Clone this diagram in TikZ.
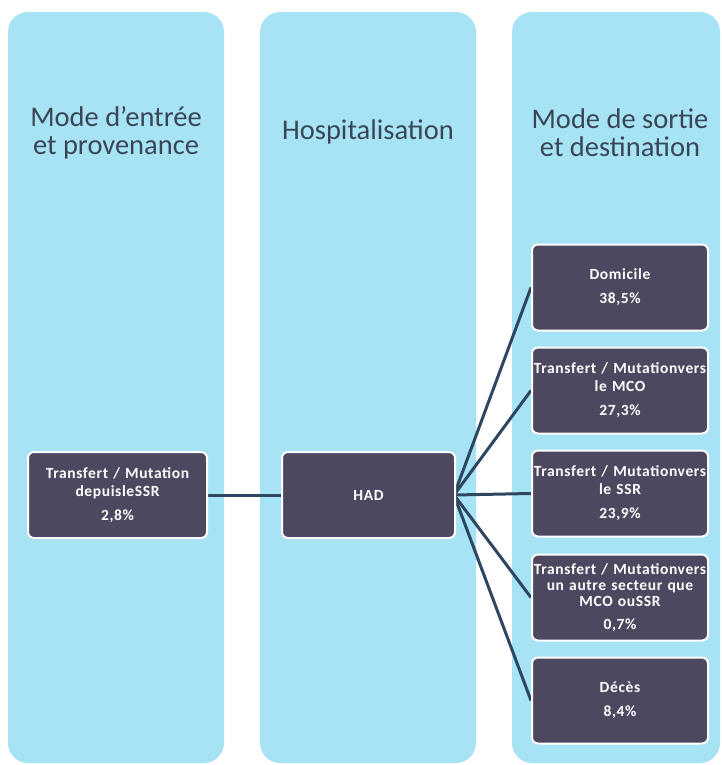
\documentclass[tikz,border=0pt]{standalone}
\usepackage{fontspec}
\setmainfont{Carlito}
\newfontfamily\boxfont[LetterSpace=4]{Carlito}
\definecolor{colbg}{HTML}{A6E3F5}
\definecolor{boxbg}{HTML}{4D4760}
\definecolor{headtxt}{HTML}{3A4656}
\definecolor{conncol}{HTML}{2E4660}
\pgfdeclarelayer{cols}
\pgfdeclarelayer{lines}
\pgfsetlayers{cols,lines,main}
\tikzset{
  column/.style={fill=colbg, rounded corners=20pt},
  heading/.style={text=headtxt, font=\fontsize{28.5}{28}\selectfont, align=center},
  flowbox/.style={fill=boxbg, draw=white, line width=2pt, rounded corners=6pt,
    text=white, font=\boxfont\bfseries\fontsize{15.5}{18}\selectfont, align=center,
    inner sep=0pt, minimum height=86pt},
  conn/.style={draw=conncol, line width=3pt}
}
\begin{document}
\begin{tikzpicture}[x=1pt,y=-1pt]
\useasboundingbox (0,0) rectangle (721,765);
\begin{pgfonlayer}{cols}
\fill[white] (0,0) rectangle (721,765);
\fill[column] (8,12) rectangle (224,763);
\fill[column] (260,12) rectangle (476,763);
\fill[column] (512,12) rectangle (720,763);
\end{pgfonlayer}
% headings
\node[heading] (h1) at (116,133) {Mode d'entrée\\et provenance};
\node[heading] (h2) at (368,132) {Hospitalisation};
\node[heading] (h3) at (620,133) {Mode de sortie\\et destination};
% boxes
\node[flowbox, minimum width=179pt, text width=175pt] (src) at (117.5,495) {Transfert / Mutation\\depuisleSSR\\[6pt]2,8\%};
\node[flowbox, minimum width=173pt, text width=170pt] (had) at (368.5,495) {HAD};
\node[flowbox, minimum width=176pt, text width=176pt] (r1) at (620,287.5) {Domicile\\[6pt]38,5\%};
\node[flowbox, minimum width=176pt, text width=176pt] (r2) at (620,390.5) {Transfert / Mutationvers\\le MCO\\[6pt]27,3\%};
\node[flowbox, minimum width=176pt, text width=176pt] (r3) at (620,493.5) {Transfert / Mutationvers\\le SSR\\[6pt]23,9\%};
\node[flowbox, minimum width=176pt, text width=176pt, font=\boxfont\bfseries\fontsize{15.5}{16}\selectfont] (r4) at (620,597.5) {Transfert / Mutationvers\\un autre secteur que\\MCO ouSSR\\[7pt]0,7\%};
\node[flowbox, minimum width=176pt, text width=176pt] (r5) at (620,700.5) {Décès\\[6pt]8,4\%};
% connectors
\begin{pgfonlayer}{lines}
\draw[conn] (src.east) -- (had.west);
\foreach \r in {r1,r2,r3,r4,r5} {\draw[conn] ([xshift=-2pt]had.east) -- (\r.west);}
\end{pgfonlayer}
\end{tikzpicture}
\end{document}
